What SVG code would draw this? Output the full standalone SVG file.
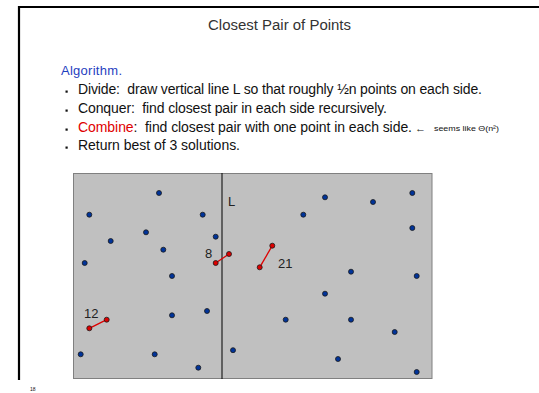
<svg xmlns="http://www.w3.org/2000/svg" width="539" height="393" viewBox="0 0 539 393">
<style>
text{font-family:"Liberation Sans",Arial,sans-serif;fill:#111;white-space:pre}
.b{font-size:14px}
.p{fill:#003399;stroke:#1a1a1a;stroke-width:0.8}
.r{fill:#dd0000;stroke:#1a1a1a;stroke-width:0.8}
.e{stroke:#dd0000;stroke-width:1.3}
.lbl{font-size:13px;fill:#222}
</style>
<rect width="539" height="393" fill="#fff"/>
<path d="M19 7H539M19 6V380" stroke="#000" stroke-width="2.2" fill="none"/>
<text x="208" y="30" textLength="143" lengthAdjust="spacingAndGlyphs" style="font-size:14px;fill:#333">Closest Pair of Points</text>
<text x="61" y="75" textLength="61" style="font-size:13px;fill:#1f3fbf">Algorithm.</text>
<g fill="#111"><rect x="65.5" y="90.5" width="2.2" height="2.2"/><rect x="65.5" y="109.5" width="2.2" height="2.2"/><rect x="65.5" y="128.5" width="2.2" height="2.2"/><rect x="65.5" y="146.5" width="2.2" height="2.2"/></g>
<text class="b" x="78" y="94" textLength="404">Divide:  draw vertical line L so that roughly ½n points on each side.</text>
<text class="b" x="78" y="113" textLength="309">Conquer:  find closest pair in each side recursively.</text>
<text class="b" x="78" y="132" textLength="334"><tspan fill="#e00000">Combine</tspan>:  find closest pair with one point in each side.</text>
<text x="415" y="132" textLength="11" lengthAdjust="spacingAndGlyphs" style="font-size:11px">←</text>
<text x="434" y="131" textLength="65" lengthAdjust="spacingAndGlyphs" style="font-size:8px">seems like Θ(n²)</text>
<text class="b" x="78" y="150" textLength="162">Return best of 3 solutions.</text>
<text x="30" y="391" style="font-size:5px">18</text>
<rect x="73.5" y="173.5" width="358.5" height="205" fill="#c0c0c0" stroke="#808080" stroke-width="1"/>
<line x1="222" y1="173" x2="222" y2="379" stroke="#000" stroke-width="1"/>
<text class="lbl" x="228" y="206">L</text>
<g id="connectors">
<line class="e" x1="215.7" y1="263" x2="229" y2="254"/>
<line class="e" x1="89.3" y1="328.3" x2="106.7" y2="319.7"/>
<line class="e" x1="259.7" y1="267.3" x2="272.3" y2="245.7"/>
</g>
<text class="lbl" x="205" y="258">8</text>
<text class="lbl" x="84" y="318">12</text>
<text class="lbl" x="278" y="268">21</text>
<g id="points">
<circle class="p" cx="159" cy="193" r="2.5"/>
<circle class="p" cx="89.3" cy="214.7" r="2.5"/>
<circle class="p" cx="202.7" cy="214.7" r="2.5"/>
<circle class="p" cx="146" cy="232.3" r="2.5"/>
<circle class="p" cx="110.7" cy="241" r="2.5"/>
<circle class="p" cx="215.7" cy="236.7" r="2.5"/>
<circle class="p" cx="163.3" cy="249.7" r="2.5"/>
<circle class="p" cx="84.7" cy="263" r="2.5"/>
<circle class="p" cx="172" cy="276" r="2.5"/>
<circle class="p" cx="172" cy="315.3" r="2.5"/>
<circle class="p" cx="207" cy="311" r="2.5"/>
<circle class="p" cx="80.7" cy="354.3" r="2.5"/>
<circle class="p" cx="154.7" cy="354.3" r="2.5"/>
<circle class="p" cx="198.3" cy="367.7" r="2.5"/>
<circle class="p" cx="233" cy="350.2" r="2.5"/>
<circle class="p" cx="325" cy="197.3" r="2.5"/>
<circle class="p" cx="373" cy="202" r="2.5"/>
<circle class="p" cx="412.3" cy="193" r="2.5"/>
<circle class="p" cx="303.3" cy="214.7" r="2.5"/>
<circle class="p" cx="412.3" cy="228" r="2.5"/>
<circle class="p" cx="351" cy="271.7" r="2.5"/>
<circle class="p" cx="416.7" cy="276" r="2.5"/>
<circle class="p" cx="325" cy="293.7" r="2.5"/>
<circle class="p" cx="285.7" cy="319.7" r="2.5"/>
<circle class="p" cx="351" cy="319.7" r="2.5"/>
<circle class="p" cx="394.7" cy="332" r="2.5"/>
<circle class="p" cx="338" cy="359" r="2.5"/>
<circle class="p" cx="416.7" cy="372" r="2.5"/>
<circle class="r" cx="215.7" cy="263" r="2.5"/>
<circle class="r" cx="229" cy="254" r="2.5"/>
<circle class="r" cx="89.3" cy="328.3" r="2.5"/>
<circle class="r" cx="106.7" cy="319.7" r="2.5"/>
<circle class="r" cx="259.7" cy="267.3" r="2.5"/>
<circle class="r" cx="272.3" cy="245.7" r="2.5"/>
</g>
</svg>
